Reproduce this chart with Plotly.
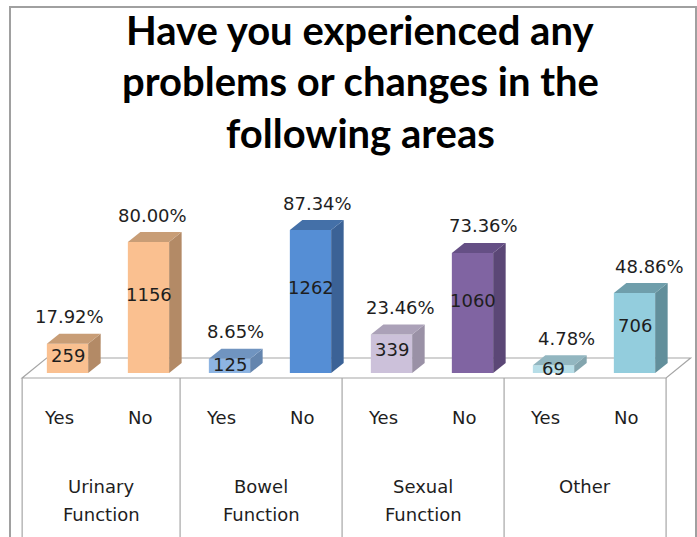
import plotly.graph_objects as go

# ---------------- data ----------------
title_lines = ["Have you experienced any", "problems or changes in the", "following areas"]
groups = ["Urinary Function", "Bowel Function", "Sexual Function", "Other"]
answers = ["Yes", "No"]
counts = [259, 1156, 125, 1262, 339, 1060, 69, 706]
percents = [17.92, 80.00, 8.65, 87.34, 23.46, 73.36, 4.78, 48.86]

front_colors = ["#FAC090", "#FAC090", "#8DB4E2", "#558ED5", "#CCC1DA", "#8064A2", "#B7DEE8", "#93CDDD"]
side_colors = ["#B38A66", "#B38A66", "#6485AE", "#3B6296", "#9A91A6", "#5B4776", "#83A5AE", "#628F9B"]
top_colors = ["#C89D76", "#C89D76", "#7094C0", "#4470A8", "#ABA1B8", "#654F85", "#92B6C0", "#6F9EAB"]

# ---------------- geometry (layout constants) ----------------
W, H = 697, 537
PX_X = 81.0            # pixels per category
X0_PX = 67.5           # pixel of first category centre
PX_PER_UNIT_Y = 0.1133 # pixels per count unit
BASE_PX = 373          # pixel row of value 0
xr = [(0 - X0_PX) / PX_X, (W - X0_PX) / PX_X]
yr = [-(H - BASE_PX) / PX_PER_UNIT_Y, BASE_PX / PX_PER_UNIT_Y]

def dpx_y(p):
    return p / PX_PER_UNIT_Y

bar_w = 0.51
dx = 12.5 / PX_X
dy = dpx_y(10)

n = len(counts)
xs = list(range(n))

fig = go.Figure()

# 3D side and top faces
for i, v in enumerate(counts):
    xl = xs[i] - bar_w / 2
    xrr = xs[i] + bar_w / 2
    fig.add_trace(go.Scatter(
        x=[xrr, xrr + dx, xrr + dx, xrr, xrr],
        y=[0, dy, v + dy, v, 0],
        fill="toself", fillcolor=side_colors[i], mode="lines",
        line=dict(width=0, color=side_colors[i]), hoverinfo="skip", showlegend=False))
    fig.add_trace(go.Scatter(
        x=[xl, xl + dx, xrr + dx, xrr, xl],
        y=[v, v + dy, v + dy, v, v],
        fill="toself", fillcolor=top_colors[i], mode="lines",
        line=dict(width=0, color=top_colors[i]), hoverinfo="skip", showlegend=False))

# front faces
fig.add_trace(go.Bar(x=xs, y=counts, width=bar_w, marker=dict(color=front_colors, line=dict(width=0)),
                     hoverinfo="skip", showlegend=False))

# floor + table lines
grid = "#A6A6A6"
front_y = dpx_y(-5)
back_y = dpx_y(15)
shift = -0.11
left_edge = -0.5 + shift + 0.05
edges = [left_edge] + [2 * g + 1.5 + shift for g in range(len(groups) - 1)] + [n - 0.5 + shift]
floor_dx = 24.5 / PX_X
shapes = []
shapes.append(dict(type="path", xref="x", yref="y", layer="below",
                   path=f"M{edges[0]},{front_y} L{edges[-1]},{front_y} L{edges[-1]+floor_dx},{back_y} L{edges[0]+floor_dx},{back_y} Z",
                   line=dict(color=grid, width=1.2), fillcolor="white"))
for e in edges:
    shapes.append(dict(type="line", xref="x", yref="y", layer="below",
                       x0=e, x1=e, y0=front_y, y1=yr[0] - 100, line=dict(color=grid, width=1.2)))
# chart border
shapes.append(dict(type="rect", xref="paper", yref="paper",
                   x0=10 / W, x1=696 / W, y0=-0.1, y1=1 - 7 / H,
                   line=dict(color="#A0A0A0", width=2), fillcolor="rgba(0,0,0,0)"))

annotations = []
# title
title_y_px = [30, 81, 133]
for t, py in zip(title_lines, title_y_px):
    annotations.append(dict(text=f"<b>{t}</b>", xref="paper", yref="paper", x=360 / W, y=1 - py / H,
                            xanchor="center", yanchor="middle", showarrow=False,
                            font=dict(family="Lato", size=40, color="#000000")))

lab_font = dict(family="DejaVu Sans", size=18, color="#1E1E1E")
for i, v in enumerate(counts):
    # percent label above the bar
    annotations.append(dict(text=f"{percents[i]:.2f}%", x=xs[i] + (2 + 1.8 * i) / PX_X, y=v + dpx_y(27),
                            xref="x", yref="y", showarrow=False, xanchor="center", yanchor="middle",
                            font=lab_font))
    # count label on the bar
    annotations.append(dict(text=str(v), x=xs[i], y=min(0.6 * v, 760),
                            xref="x", yref="y", showarrow=False, xanchor="center", yanchor="middle",
                            font=lab_font))
    # Yes / No label
    annotations.append(dict(text=answers[i % 2], x=xs[i] - 8.5 / PX_X, y=-dpx_y(417 - BASE_PX),
                            xref="x", yref="y", showarrow=False, xanchor="center", yanchor="middle",
                            font=lab_font))

for g, name in enumerate(groups):
    cx = (edges[g] + edges[g + 1]) / 2
    for k, word in enumerate(name.split(" ")):
        annotations.append(dict(text=word, x=cx, y=-dpx_y(486 + 28 * k - BASE_PX),
                                xref="x", yref="y", showarrow=False, xanchor="center", yanchor="middle",
                                font=lab_font))

fig.update_layout(
    width=W, height=H, margin=dict(l=0, r=0, t=0, b=0),
    paper_bgcolor="white", plot_bgcolor="white",
    xaxis=dict(range=xr, visible=False, fixedrange=True),
    yaxis=dict(range=yr, visible=False, fixedrange=True),
    shapes=shapes, annotations=annotations, showlegend=False,
)

fig.write_html("out.html")
